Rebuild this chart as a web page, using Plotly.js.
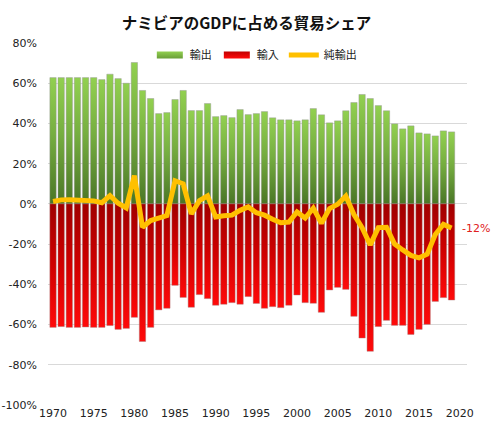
<!DOCTYPE html>
<html>
<head>
<meta charset="utf-8">
<script src="https://cdn.plot.ly/plotly-3.0.1.min.js"></script>
<style>body{margin:0;background:#fff}#chart{width:493px;height:432px}</style>
</head>
<body>
<div id="chart"></div>
<script>
var years = [];
for (var y = 1970; y <= 2019; y++) years.push(y);

var exportsShare = [62.8,62.8,62.8,62.8,62.8,62.8,61.8,64.5,62.3,60.0,
  70.3,56.4,52.4,44.9,45.4,51.9,56.4,46.4,46.4,49.9,
  43.4,43.9,42.9,46.9,44.4,44.9,45.9,42.8,41.8,41.8,
  41.3,41.8,47.4,44.3,40.3,41.3,46.3,50.4,54.4,52.4,
  48.9,46.3,39.8,37.3,38.8,35.3,34.8,33.8,36.3,35.8];

var importsShare = [-61.4,-61.0,-61.4,-61.4,-61.2,-61.4,-61.4,-60.5,-62.4,-61.9,
  -56.4,-68.4,-61.4,-52.7,-51.9,-40.5,-46.5,-51.4,-45.1,-47.1,
  -50.4,-49.9,-49.1,-49.9,-46.1,-49.5,-51.9,-51.1,-51.6,-50.4,
  -45.3,-49.1,-49.4,-53.9,-42.8,-41.5,-42.5,-55.9,-66.7,-73.3,
  -61.0,-57.9,-60.4,-60.4,-64.9,-62.4,-59.9,-48.5,-46.6,-47.8];

var netExports = [1.2,2.0,2.1,1.8,2.1,1.5,0.6,4.1,0.3,-2.0,
  14.0,-11.6,-8.3,-7.2,-5.8,11.5,10.0,-5.0,1.6,4.0,
  -6.5,-5.9,-5.6,-3.2,-1.5,-4.4,-5.6,-7.6,-9.4,-9.0,
  -4.0,-7.0,-2.1,-9.6,-2.3,-0.2,3.9,-5.3,-11.8,-20.4,
  -11.8,-11.6,-20.0,-22.9,-25.6,-26.8,-25.0,-15.2,-10.2,-12.0];

var tickYears = [1970,1975,1980,1985,1990,1995,2000,2005,2010,2015,2020];
var tickPct = [-100,-80,-60,-40,-20,0,20,40,60,80];
var tickPctText = tickPct.map(function(v){return v + '%';});
var lastLabel = '-12%';

var font = 'Tahoma, "DejaVu Sans", "Noto Sans CJK JP", sans-serif';

var traces = [
  {type:'bar', x:years, y:exportsShare, name:'輸出',
   marker:{color:'#7BB83F', line:{color:'rgba(150,150,150,0.55)', width:0.8}}},
  {type:'bar', x:years, y:importsShare, name:'輸入',
   marker:{color:'#D40000', line:{color:'rgba(170,120,120,0.55)', width:0.8}}},
  {type:'scatter', mode:'lines', x:years, y:netExports, name:'純輸出',
   line:{color:'#FFC000', width:5}}
];

var layout = {
  width:493, height:432,
  margin:{l:48, r:26, t:43, b:27},
  paper_bgcolor:'#fff', plot_bgcolor:'#fff',
  barmode:'relative', bargap:0.22,
  font:{family:font, size:11, color:'#333'},
  title:{text:'<b>ナミビアのGDPに占める貿易シェア</b>', x:0.5, xanchor:'center', y:0.946, yanchor:'middle',
         font:{family:'"Noto Sans CJK JP", sans-serif', size:15.5, color:'#111'}},
  showlegend:true,
  legend:{orientation:'h', x:0.496, xanchor:'center', y:0.967, yanchor:'middle',
          font:{family:'"Noto Sans CJK JP", sans-serif', size:11, color:'#222'},
          bgcolor:'rgba(0,0,0,0)', traceorder:'normal', itemwidth:30},
  xaxis:{range:[1969.38, 2020.9], tickmode:'array', tickvals:tickYears,
         ticktext:tickYears.map(String), showgrid:false, zeroline:false,
         showline:false, ticks:'', tickfont:{size:11, color:'#222'}},
  yaxis:{range:[-100, 80], tickmode:'array', tickvals:tickPct, ticktext:tickPctText,
         showgrid:true, gridcolor:'#D9D9D9', gridwidth:1, zeroline:false,
         showline:false, ticks:'', ticklabelstandoff:10, tickfont:{size:11, color:'#222'}},
  annotations:[{x:years[years.length-1], y:netExports[netExports.length-1], xref:'x', yref:'y',
    text:lastLabel, showarrow:false, xanchor:'left', xshift:8,
    font:{family:font, size:11, color:'#E02020'}}]
};

Plotly.newPlot('chart', traces, layout, {displayModeBar:false, staticPlot:true}).then(function(gd){
  var svg = gd.querySelector('.main-svg');
  var defs = svg.querySelector('defs');
  var NS = 'http://www.w3.org/2000/svg';
  function grad(id, stops){
    var g = document.createElementNS(NS,'linearGradient');
    g.setAttribute('id', id);
    g.setAttribute('x1','0'); g.setAttribute('y1','0');
    g.setAttribute('x2','0'); g.setAttribute('y2','1');
    stops.forEach(function(s){
      var st = document.createElementNS(NS,'stop');
      st.setAttribute('offset', s[0]); st.setAttribute('stop-color', s[1]);
      g.appendChild(st);
    });
    defs.appendChild(g);
  }
  grad('gGreen', [['0','#92D050'],['0.45','#76AE40'],['1','#4A7626']]);
  grad('gRed', [['0','#A00000'],['0.5','#D00000'],['1','#FF0A0A']]);
  grad('gGreenL', [['0','#92D050'],['1','#6A9E38']]);
  grad('gRedL', [['0','#C00000'],['1','#FF0A0A']]);
  var bars = gd.querySelectorAll('.barlayer .trace');
  if (bars[0]) bars[0].querySelectorAll('path').forEach(function(p){p.style.fill='url(#gGreen)';});
  if (bars[1]) bars[1].querySelectorAll('path').forEach(function(p){p.style.fill='url(#gRed)';});
  var leg = gd.querySelectorAll('.legend .traces');
  function wide(p, id){
    p.setAttribute('d','M-13,-3.5H13V3.5H-13Z');
    p.style.fill='url(#'+id+')';
    p.style.stroke='none';
  }
  if (leg[0]) leg[0].querySelectorAll('.legendpoints path').forEach(function(p){wide(p,'gGreenL');});
  if (leg[1]) leg[1].querySelectorAll('.legendpoints path').forEach(function(p){wide(p,'gRedL');});
});
</script>
</body>
</html>
